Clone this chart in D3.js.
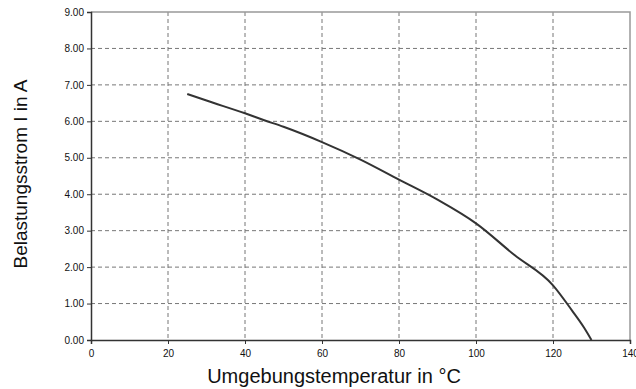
<!DOCTYPE html>
<html>
<head>
<meta charset="utf-8">
<script src="https://cdn.jsdelivr.net/npm/d3@7"></script>
<style>
  body { margin: 0; background: #fff; }
  text { font-family: "Liberation Sans", Arial, sans-serif; fill: #111; }
</style>
</head>
<body>
<div id="main"></div>
<script>
// Umgebungstemperatur (°C) und Belastungsstrom (A)
const temps = [25, 30, 40, 45, 50, 60, 70, 80, 90, 100, 110, 120, 125, 128, 130];
const currents = [6.75, 6.57, 6.22, 6.03, 5.85, 5.43, 4.95, 4.40, 3.85, 3.20, 2.33, 1.50, 0.80, 0.35, 0];
const xTicks = [0, 20, 40, 60, 80, 100, 120, 140];
const yTicks = [0, 1, 2, 3, 4, 5, 6, 7, 8, 9];

const W = 636, H = 389;
const mLeft = 91, mRight = 630, mTop = 12, mBottom = 340;

const svg = d3.select("#main").append("svg")
    .attr("width", W)
    .attr("height", H);

const x = d3.scaleLinear().domain([0, 140]).range([mLeft, mRight]);
const y = d3.scaleLinear().domain([0, 9]).range([mBottom, mTop]);

// gitterlinien
svg.append("g")
    .selectAll("line")
    .data(yTicks.slice(1, -1))
    .join("line")
    .attr("x1", mLeft).attr("x2", mRight)
    .attr("y1", d => y(d)).attr("y2", d => y(d))
    .attr("stroke", "#777")
    .attr("stroke-dasharray", "4,3");

svg.append("g")
    .selectAll("line")
    .data(xTicks.slice(1, -1))
    .join("line")
    .attr("x1", d => x(d)).attr("x2", d => x(d))
    .attr("y1", mTop).attr("y2", mBottom)
    .attr("stroke", "#777")
    .attr("stroke-dasharray", "4,3");

// rahmen oben / rechts
svg.append("path")
    .attr("d", `M${mLeft},${mTop}H${mRight}V${mBottom}`)
    .attr("fill", "none")
    .attr("stroke", "#999")
    .attr("stroke-width", 1.5);

// achsen
const yAxis = d3.axisLeft(y).tickValues(yTicks).tickFormat(d3.format(".2f")).tickSize(4).tickPadding(3);
const xAxis = d3.axisBottom(x).tickValues(xTicks).tickFormat(d3.format("d")).tickSize(4).tickPadding(6);

const gy = svg.append("g")
    .attr("transform", `translate(${mLeft},0)`)
    .call(yAxis);
const gx = svg.append("g")
    .attr("transform", `translate(0,${mBottom})`)
    .call(xAxis);

[gx, gy].forEach(g => {
    g.select(".domain").attr("stroke", "#333").attr("stroke-width", 1.5);
    g.selectAll(".tick line").attr("stroke", "#333");
    g.selectAll(".tick text").attr("font-size", 10).attr("fill", "#111");
});

// kurve
const line = d3.line()
    .x((d, i) => x(temps[i]))
    .y(d => y(d))
    .curve(d3.curveMonotoneX);

svg.append("path")
    .datum(currents)
    .attr("d", line)
    .attr("fill", "none")
    .attr("stroke", "#333")
    .attr("stroke-width", 2);

// achsentitel
svg.append("text")
    .text("Umgebungstemperatur in °C")
    .attr("x", 334)
    .attr("y", 383)
    .attr("text-anchor", "middle")
    .attr("font-size", 20);

svg.append("text")
    .text("Belastungsstrom I in A")
    .attr("transform", "translate(27,174) rotate(-90)")
    .attr("text-anchor", "middle")
    .attr("font-size", 19);
</script>
</body>
</html>
